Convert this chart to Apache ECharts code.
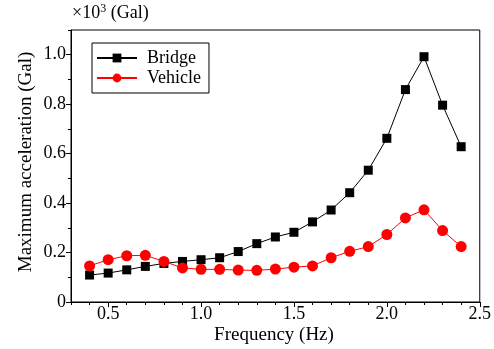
<!DOCTYPE html>
<html><head><meta charset="utf-8">
<script src="https://cdn.jsdelivr.net/npm/echarts@6/dist/echarts.min.js"></script>
<style>html,body{margin:0;padding:0;background:#fff}#c{width:494px;height:349px}</style>
</head><body><div id="c"></div>
<script>
const frequency = [0.4,0.5,0.6,0.7,0.8,0.9,1.0,1.1,1.2,1.3,1.4,1.5,1.6,1.7,1.8,1.9,2.0,2.1,2.2,2.3,2.4];
const bridge = [0.109,0.117,0.130,0.144,0.156,0.164,0.171,0.179,0.204,0.236,0.263,0.282,0.324,0.372,0.442,0.533,0.662,0.859,0.992,0.796,0.628];
const vehicle = [0.146,0.171,0.187,0.189,0.164,0.138,0.132,0.132,0.129,0.128,0.133,0.141,0.146,0.179,0.205,0.224,0.273,0.340,0.373,0.289,0.224];
const xMajorTicks = [0.5,1.0,1.5,2.0,2.5];
const yMajorTicks = [0,0.2,0.4,0.6,0.8,1.0];

const FONT = 'Liberation Serif';
const isMult = (v, s) => Math.abs(v / s - Math.round(v / s)) < 1e-6;
const chart = echarts.init(document.getElementById('c'));
const pts = arr => arr.map((v, i) => [frequency[i], v]);
chart.setOption({
  animation: false,
  textStyle: { fontFamily: FONT },
  grid: { left: 71, right: 11, top: 30, bottom: 47, show: true, borderColor: '#000', borderWidth: 1 },
  legend: {
    left: 92, top: 43, orient: 'vertical', itemWidth: 40, itemHeight: 11, itemGap: 2,
    borderColor: '#000', borderWidth: 1, padding: [6, 8, 6, 4],
    textStyle: { fontFamily: FONT, fontSize: 18, color: '#000', padding: [0, 0, 0, 5] },
    data: ['Bridge', 'Vehicle']
  },
  xAxis: [{
    type: 'value', min: 0.3, max: 2.5, interval: 0.1,
    axisLine: { lineStyle: { color: '#000' } },
    axisTick: { length: 3, lineStyle: { color: '#000' } },
    splitLine: { show: false },
    axisLabel: { fontFamily: FONT, fontSize: 18, color: '#000', margin: 3,
      formatter: v => isMult(v, 0.5) ? v.toFixed(1) : '' , showMinLabel: true, showMaxLabel: true }
  }, {
    type: 'value', min: 0.3, max: 2.5, position: 'bottom',
    axisLine: { show: false },
    axisTick: { show: true, length: 5, customValues: xMajorTicks, lineStyle: { color: '#000' } },
    axisLabel: { show: false }, splitLine: { show: false }
  }],
  yAxis: [{
    type: 'value', min: 0, max: 1.1, interval: 0.1,
    axisLine: { show: true, lineStyle: { color: '#000' } },
    axisTick: { show: true, length: 3, lineStyle: { color: '#000' } },
    splitLine: { show: false },
    axisLabel: { fontFamily: FONT, fontSize: 18, color: '#000', margin: 5,
      formatter: v => (isMult(v, 0.2) && v < 1.05) ? (Math.abs(v) < 1e-9 ? '0' : v.toFixed(1)) : '' }
  }, {
    type: 'value', min: 0, max: 1.1, position: 'left',
    axisLine: { show: false },
    axisTick: { show: true, length: 5, customValues: yMajorTicks, lineStyle: { color: '#000' } },
    axisLabel: { show: false }, splitLine: { show: false }
  }],
  graphic: [
    { type: 'text', left: 72, top: 3, style: { text: '×10{s|3} (Gal)', fontFamily: FONT, fontSize: 18, fill: '#000',
      rich: { s: { fontFamily: FONT, fontSize: 12, verticalAlign: 'top', padding: [0, 0, 9, 0] } } } },
    { type: 'text', x: 26, y: 162, rotation: Math.PI / 2, style: { text: 'Maximum acceleration (Gal)', fontFamily: FONT, fontSize: 19, fill: '#000', align: 'center', verticalAlign: 'middle' } },
    { type: 'text', x: 274, y: 335, style: { text: 'Frequency (Hz)', fontFamily: FONT, fontSize: 19, fill: '#000', align: 'center', verticalAlign: 'middle' } }
  ],
  series: [{
    name: 'Bridge', type: 'line', data: pts(bridge), symbol: 'rect', symbolSize: 9,
    itemStyle: { color: '#000' }, lineStyle: { color: '#000', width: 1 }
  }, {
    name: 'Vehicle', type: 'line', data: pts(vehicle), symbol: 'circle', symbolSize: 11,
    itemStyle: { color: '#ff0000' }, lineStyle: { color: '#ff0000', width: 1 }
  }]
});
</script></body></html>
